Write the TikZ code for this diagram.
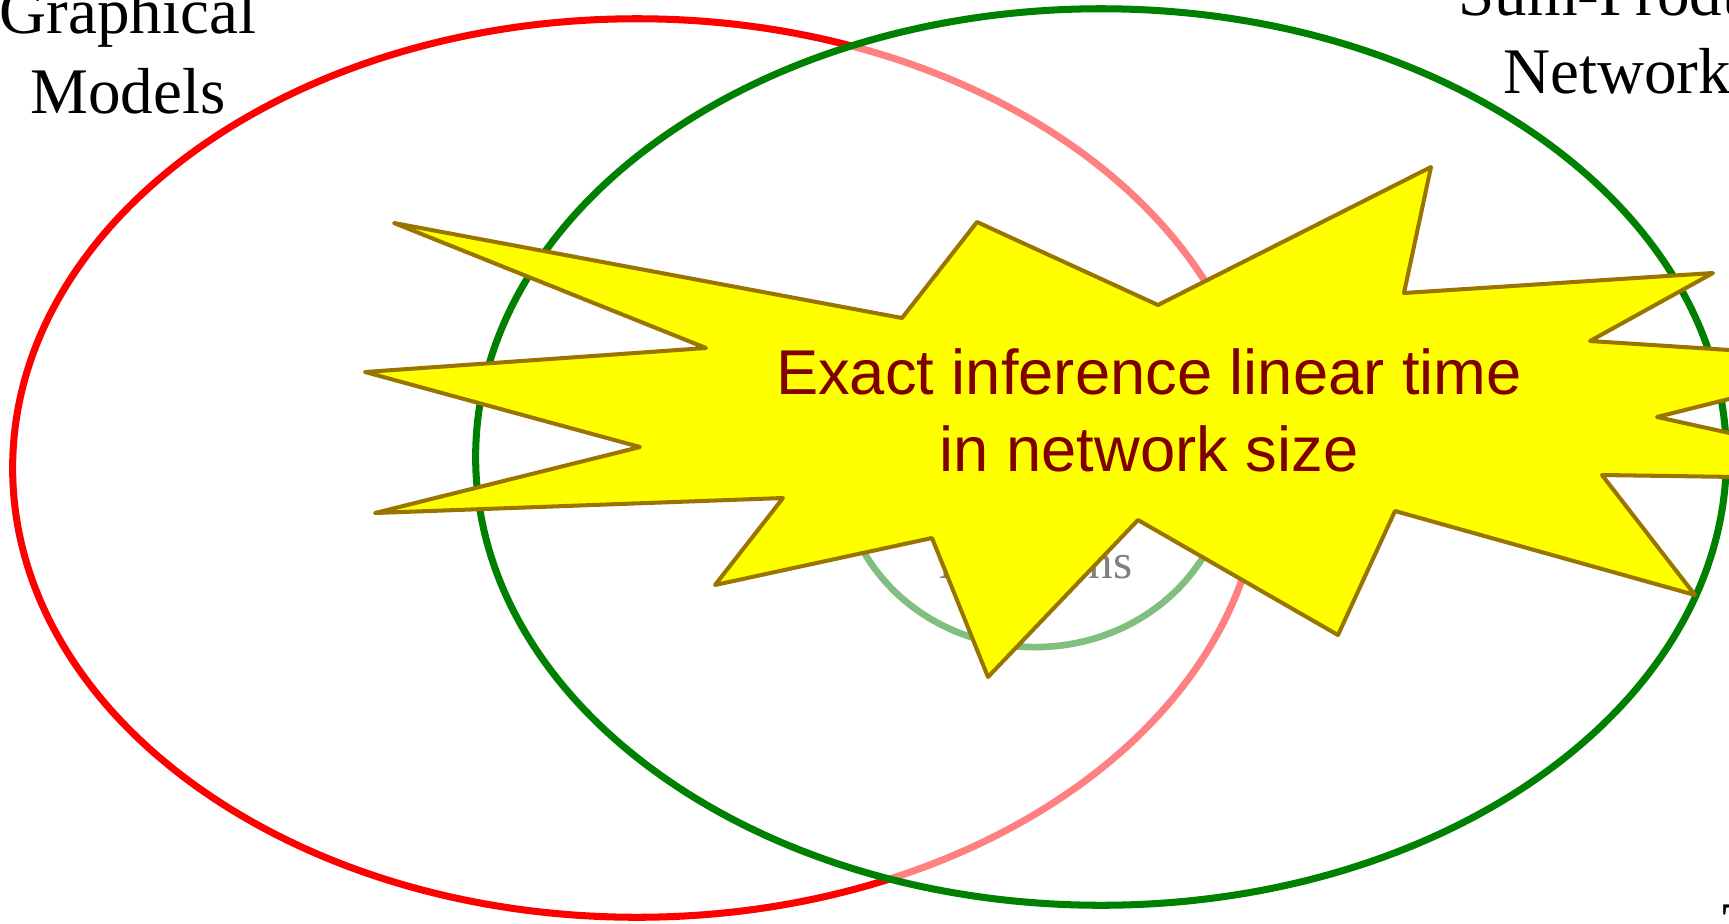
\documentclass[tikz,border=0pt]{standalone}
\usepackage{fontspec}
\setmainfont{Liberation Serif}
\newfontfamily\starfont{Liberation Sans}
\definecolor{gmred}{RGB}{255,0,0}
\definecolor{spngreen}{RGB}{0,128,0}
\definecolor{staredge}{RGB}{153,117,0}
\definecolor{startext}{RGB}{128,0,0}
\definecolor{starfill}{RGB}{255,255,0}
\tikzset{
  setline/.style={line width=2pt},
  label18/.style={font=\fontsize{18.5}{22}\selectfont, inner sep=0pt, anchor=base},
  starlabel/.style={font=\starfont\fontsize{18}{22}\selectfont, text=startext, inner sep=0pt, anchor=base},
  burst/.style={fill=starfill, draw=staredge, line width=1.15pt, line join=round},
}
\begin{document}
\begin{tikzpicture}[x=0.01cm,y=-0.01cm]
\useasboundingbox (0,0) rectangle (1729,923);
% Graphical models ellipse
\coordinate (gmc) at (637,468);
\draw[setline, gmred] (gmc) ellipse [x radius=6.24cm, y radius=4.49cm];
% inner set and its label
\coordinate (inc) at (1035,467);
\draw[line width=1.9pt, spngreen] (inc) ellipse [x radius=1.94cm, y radius=1.80cm];
\node[font=\fontsize{14}{17}\selectfont, text=black, inner sep=0pt, anchor=base east] (innertext) at (1133,578) {Functions};
% SPN ellipse with half-transparent white fill
\coordinate (spnc) at (1101,457);
\fill[white, fill opacity=0.5] (spnc) ellipse [x radius=6.25cm, y radius=4.48cm];
\draw[setline, spngreen] (spnc) ellipse [x radius=6.25cm, y radius=4.48cm];
% labels
\node[label18] (gm1) at (128,33) {Graphical};
\node[label18] (gm2) at (128,113) {Models};
\node[label18] (spn1) at (1630,15) {Sum-Product};
\node[label18] (spn2) at (1630,93) {Networks};
\node[label18, anchor=base west] (bottomtext) at (1722,947) {T};
% starburst
\filldraw[burst] (394,223) -- (902,318) -- (977,222) -- (1158,305) -- (1431,167) -- (1404,293)
  -- (1713,273) -- (1590,341) -- (1885,360) -- (1657,417) -- (1943,480) -- (1602,475)
  -- (1695,595) -- (1395,511) -- (1338,635) -- (1138,520) -- (988,677) -- (932,538)
  -- (715,585) -- (783,498) -- (375,513) -- (640,447) -- (365,372) -- (706,348) -- cycle;
\node[starlabel] (star1) at (1149,394) {Exact inference linear time};
\node[starlabel] (star2) at (1149,471) {in network size};
\end{tikzpicture}
\end{document}
